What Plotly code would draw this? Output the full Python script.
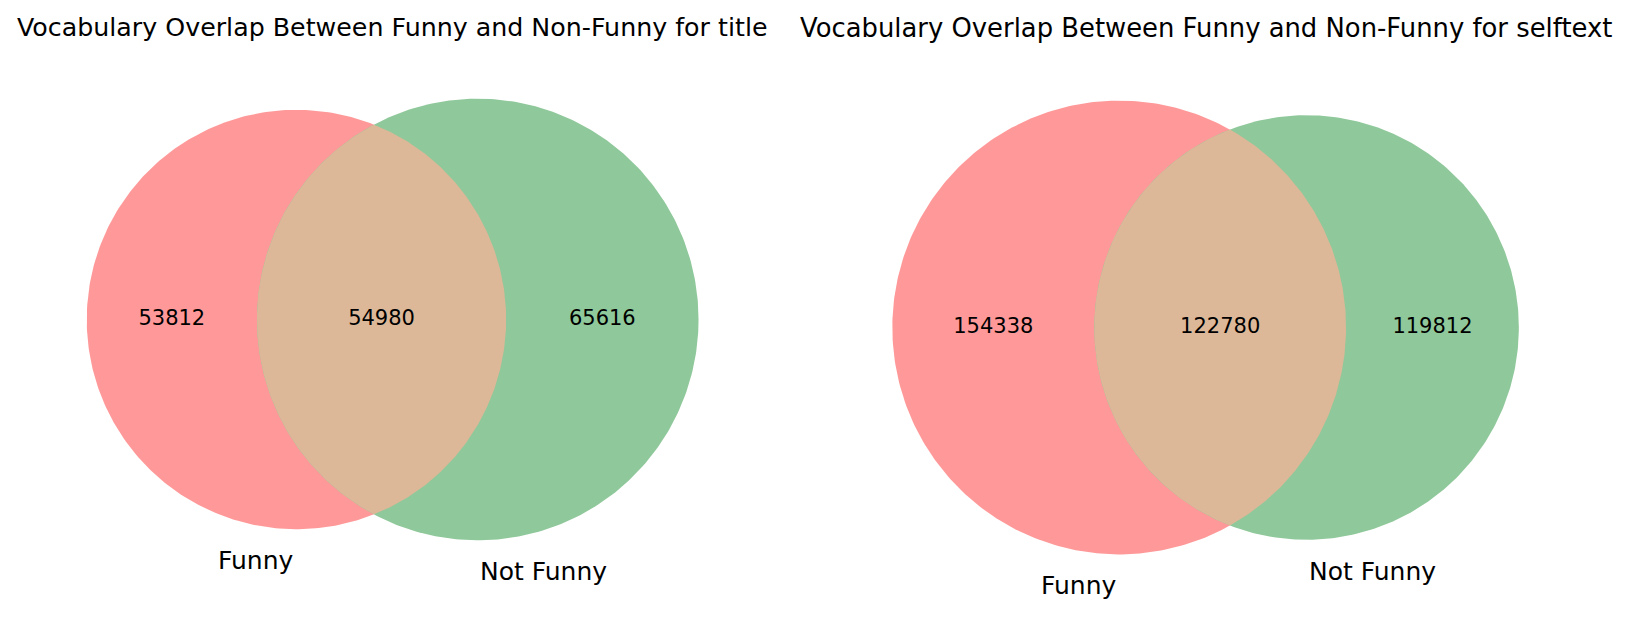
import numpy as np
import plotly.graph_objects as go

# data
panel_titles = ["Vocabulary Overlap Between Funny and Non-Funny for title",
                "Vocabulary Overlap Between Funny and Non-Funny for selftext"]
set_names = ["Funny", "Not Funny"]
only_funny = [53812, 154338]
shared = [54980, 122780]
only_not_funny = [65616, 119812]

red = "#ff9999"
green = "#8fc89a"
mixed = "#dcb898"
font_family = "DejaVu Sans"

# panel boxes in paper coords (x0, x1, y0, y1)
boxes = [(0.0192, 0.4473, 0.0623, 0.9296),
         (0.5067, 0.9458, 0.0380, 0.9280)]
title_sizes = [25.3, 25.85]


def lens_area(ra, rb, d):
    if d >= ra + rb:
        return 0.0
    if d <= abs(ra - rb):
        return np.pi * min(ra, rb) ** 2
    a = ra ** 2 * np.arccos((d * d + ra * ra - rb * rb) / (2 * d * ra))
    b = rb ** 2 * np.arccos((d * d + rb * rb - ra * ra) / (2 * d * rb))
    c = 0.5 * np.sqrt((-d + ra + rb) * (d + ra - rb) * (d - ra + rb) * (d + ra + rb))
    return a + b - c


def venn_geometry(a_only, ab, b_only):
    # area-proportional layout, total area normalised to 1 (like matplotlib-venn)
    total = float(a_only + ab + b_only)
    area_a = (a_only + ab) / total
    area_b = (b_only + ab) / total
    area_ab = ab / total
    ra, rb = np.sqrt(area_a / np.pi), np.sqrt(area_b / np.pi)
    lo, hi = abs(ra - rb), ra + rb
    for _ in range(80):
        mid = (lo + hi) / 2
        if lens_area(ra, rb, mid) > area_ab:
            lo = mid
        else:
            hi = mid
    d = (lo + hi) / 2
    shift = rb ** 2 * d / (ra ** 2 + rb ** 2)
    return -shift, d - shift, ra, rb


fig = go.Figure()
t = np.linspace(0, 2 * np.pi, 400)

for i in range(2):
    xa, xb, ra, rb = venn_geometry(only_funny[i], shared[i], only_not_funny[i])
    xname = "x" if i == 0 else "x2"
    yname = "y" if i == 0 else "y2"

    fig.add_trace(go.Scatter(x=xa + ra * np.cos(t), y=ra * np.sin(t), mode="lines",
                             fill="toself", fillcolor=red, line=dict(width=0, color=red),
                             hoverinfo="skip", xaxis=xname, yaxis=yname))
    fig.add_trace(go.Scatter(x=xb + rb * np.cos(t), y=rb * np.sin(t), mode="lines",
                             fill="toself", fillcolor=green, line=dict(width=0, color=green),
                             hoverinfo="skip", xaxis=xname, yaxis=yname))

    # lens
    d = xb - xa
    xi = (d * d + ra * ra - rb * rb) / (2 * d)
    h = np.sqrt(ra * ra - xi * xi)
    th_a = np.arctan2(h, xi)
    th_b = np.arctan2(h, d - xi)
    ta = np.linspace(-th_a, th_a, 200)
    tb = np.linspace(np.pi - th_b, np.pi + th_b, 200)
    lx = np.concatenate([xa + ra * np.cos(ta), xb + rb * np.cos(tb)])
    ly = np.concatenate([ra * np.sin(ta), rb * np.sin(tb)])
    fig.add_trace(go.Scatter(x=lx, y=ly, mode="lines", fill="toself", fillcolor=mixed,
                             line=dict(width=0, color=mixed), hoverinfo="skip",
                             xaxis=xname, yaxis=yname))

    # subset counts
    px = [((xa - ra) + (xb - rb)) / 2, ((xb - rb) + (xa + ra)) / 2, ((xa + ra) + (xb + rb)) / 2]
    fig.add_trace(go.Scatter(x=px, y=[0, 0, 0], mode="text",
                             text=[str(only_funny[i]), str(shared[i]), str(only_not_funny[i])],
                             textfont=dict(family=font_family, size=21, color="black"),
                             hoverinfo="skip", xaxis=xname, yaxis=yname))

    # set labels under the circles
    fig.add_annotation(x=xa, y=-ra, xref=xname, yref=yname, text=set_names[0],
                       xanchor="right", yanchor="top", showarrow=False, yshift=-15,
                       font=dict(family=font_family, size=25, color="black"))
    fig.add_annotation(x=xb, y=-rb, xref=xname, yref=yname, text=set_names[1],
                       xanchor="left", yanchor="top", showarrow=False, yshift=-15,
                       font=dict(family=font_family, size=25, color="black"))

    rmax = max(ra, rb)
    x0, x1, y0, y1 = boxes[i]
    suffix = "" if i == 0 else "2"
    fig.update_layout(**{
        "xaxis" + suffix: dict(domain=[x0, x1], range=[xa - ra - 0.1, xb + rb + 0.1],
                               visible=False, constrain="domain",
                               anchor=yname),
        "yaxis" + suffix: dict(domain=[y0, y1], range=[-rmax - 0.1, rmax + 0.1],
                               visible=False, scaleanchor=xname, scaleratio=1,
                               constrain="domain", anchor=xname),
    })

    fig.add_annotation(x=(x0 + x1) / 2, y=1 - 20 / 618, xref="paper", yref="paper",
                       text=panel_titles[i], showarrow=False, xanchor="center",
                       yanchor="middle",
                       font=dict(family=font_family, size=title_sizes[i], color="black"))

fig.update_layout(width=1649, height=618, margin=dict(l=0, r=0, t=0, b=0),
                  paper_bgcolor="white", plot_bgcolor="white", showlegend=False)

fig.write_html("out.html")
